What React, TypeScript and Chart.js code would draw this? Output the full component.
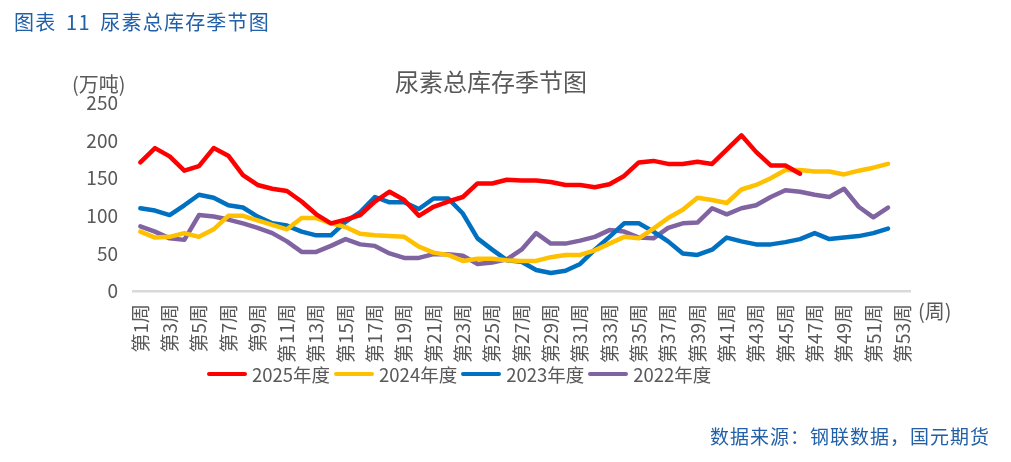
import React, { useEffect, useRef } from "react";
import { Chart, registerables } from "chart.js";

Chart.register(...registerables);

const weeks: string[] = Array.from({ length: 53 }, (_, i) => `第${i + 1}周`);

const series2025: number[] = [171, 190, 179, 160, 166, 190, 180, 154, 141, 136, 133, 119, 102, 90, 95, 101, 119, 132, 121, 100, 112, 119, 125, 143, 143, 148, 147, 147, 145, 141, 141, 138, 142, 153, 171, 173, 169, 169, 172, 169, 188, 207, 185, 167, 167, 156];
const series2024: number[] = [79, 71, 72, 77, 72, 82, 100, 100, 94, 88, 82, 97, 97, 90, 85, 76, 74, 73, 72, 59, 51, 48, 40, 43, 43, 41, 40, 40, 45, 48, 48, 54, 63, 72, 70, 83, 97, 108, 124, 121, 117, 135, 141, 150, 161, 161, 159, 159, 155, 160, 164, 169];
const series2023: number[] = [110, 107, 101, 114, 128, 124, 114, 111, 99, 90, 87, 79, 74, 74, 92, 105, 125, 118, 118, 109, 123, 123, 103, 70, 55, 41, 39, 28, 24, 27, 36, 55, 72, 90, 90, 79, 66, 50, 48, 55, 71, 66, 62, 62, 65, 69, 77, 69, 71, 73, 77, 83];
const series2022: number[] = [86, 79, 70, 68, 101, 99, 95, 90, 84, 77, 66, 52, 52, 60, 69, 62, 60, 50, 44, 44, 49, 49, 47, 36, 38, 42, 55, 77, 63, 63, 67, 72, 81, 79, 71, 70, 84, 90, 91, 110, 102, 110, 114, 125, 134, 132, 128, 125, 136, 112, 98, 111];

const seriesNames: string[] = ["2025年度", "2024年度", "2023年度", "2022年度"];
const seriesColors: string[] = ["#FF0000", "#FFC000", "#0070C0", "#8064A2"];
const yTicks: number[] = [0, 50, 100, 150, 200, 250];

const FONT = "'Noto Sans CJK SC', 'Noto Sans', sans-serif";
const GRAY = "#595959";
const BLUE = "#2160A8";

export default function App() {
  const canvasRef = useRef<HTMLCanvasElement | null>(null);

  useEffect(() => {
    if (!canvasRef.current) return;
    const allSeries = [series2025, series2024, series2023, series2022];
    const chart = new Chart(canvasRef.current, {
      type: "line",
      data: {
        labels: weeks,
        datasets: allSeries.map((d, i) => ({
          label: seriesNames[i],
          data: d,
          borderColor: seriesColors[i],
          backgroundColor: seriesColors[i],
          borderWidth: 4.5,
          pointRadius: 0,
          tension: 0,
          fill: false,
          borderJoinStyle: "round" as const,
          borderCapStyle: "round" as const,
          order: i,
        })),
      },
      options: {
        responsive: false,
        animation: false,
        layout: { padding: { top: 103, right: 101, bottom: 0, left: 0 } },
        plugins: {
          legend: { display: false },
          title: { display: false },
          tooltip: { enabled: false },
        },
        scales: {
          x: {
            type: "category",
            offset: true,
            grid: { display: false, drawTicks: false, offset: true },
            border: { display: true, color: "#D9D9D9", width: 2.5 },
            ticks: {
              autoSkip: false,
              maxRotation: 90,
              minRotation: 90,
              padding: 13,
              color: GRAY,
              font: { family: FONT, size: 19 },
              callback: (_v: any, idx: number) => (idx % 2 === 0 ? weeks[idx] : ""),
            },
            afterFit: (scale: any) => {
              scale.height = 171;
            },
          },
          y: {
            min: yTicks[0],
            max: yTicks[yTicks.length - 1],
            grid: { display: false, drawTicks: false },
            border: { display: false },
            ticks: {
              stepSize: 50,
              padding: 15,
              color: GRAY,
              font: { family: FONT, size: 19 },
            },
            afterFit: (scale: any) => {
              scale.width = 133;
            },
          },
        },
      },
    });
    return () => chart.destroy();
  }, []);

  const abs = (extra: React.CSSProperties): React.CSSProperties => ({
    position: "absolute",
    whiteSpace: "pre",
    fontFamily: FONT,
    margin: 0,
    ...extra,
  });

  return (
    <div style={{ position: "absolute", left: 0, top: 0, width: 1011, height: 462, background: "#fff", overflow: "hidden" }}>
      <canvas ref={canvasRef} width={1011} height={462} style={{ position: "absolute", left: 0, top: 0, width: 1011, height: 462 }} />
      <div style={abs({ left: 14, top: 12, fontSize: 20, lineHeight: "20px", color: BLUE, letterSpacing: "1.2px", wordSpacing: "4px" })}>图表 11 尿素总库存季节图</div>
      <div style={abs({ left: 395, top: 69, fontSize: 24, lineHeight: "24px", color: GRAY })}>尿素总库存季节图</div>
      <div style={abs({ left: 72, top: 74, fontSize: 20, lineHeight: "20px", color: GRAY })}>(万吨)</div>
      <div style={abs({ left: 918, top: 301, fontSize: 20, lineHeight: "20px", color: GRAY })}>(周)</div>
      <div style={abs({ left: 207, top: 365, height: 18, display: "flex", alignItems: "center", fontSize: 18.5, lineHeight: "18px", color: GRAY })}>
        {seriesNames.map((n, i) => (
          <div key={n} style={{ display: "flex", alignItems: "center", marginRight: 4 }}>
            <span style={{ display: "inline-block", width: 40, height: 4.5, borderRadius: 2.5, background: seriesColors[i], marginRight: 5 }} />
            <span>{n}</span>
          </div>
        ))}
      </div>
      <div style={abs({ left: 710, top: 426, fontSize: 19, lineHeight: "19px", color: BLUE, letterSpacing: "1px" })}>数据来源：钢联数据，国元期货</div>
    </div>
  );
}
